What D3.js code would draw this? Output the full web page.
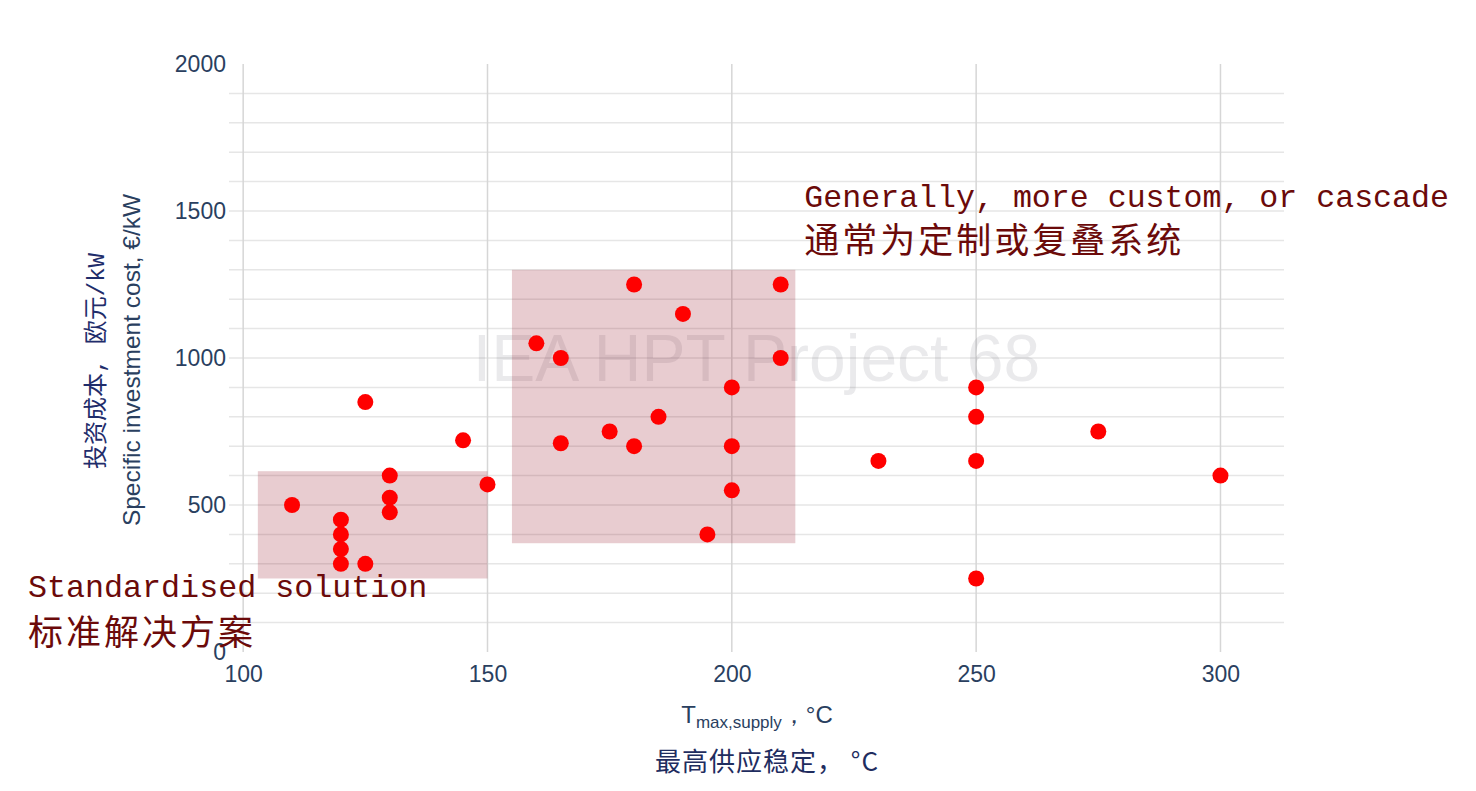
<!DOCTYPE html>
<html><head><meta charset="utf-8">
<script src="https://cdn.jsdelivr.net/npm/d3@7"></script>
<style>html,body{margin:0;padding:0;background:#fff;}svg{display:block;}</style>
</head><body>
<svg id="chart" width="1476" height="791"></svg>
<script>
// Data
const temps = [110,120,120,120,120,125,125,130,130,130,145,150,160,165,165,175,180,180,185,190,195,200,200,200,210,210,230,250,250,250,250,275,300];
const costs = [500,450,400,350,300,300,850,600,525,475,720,570,1050,1000,710,750,1250,700,800,1150,400,900,700,550,1250,1000,650,900,800,650,250,750,600];
const xTicks = [100,150,200,250,300];
const yTicks = [0,500,1000,1500,2000];
const yMinor = [100,200,300,400,500,600,700,800,900,1000,1100,1200,1300,1400,1500,1600,1700,1800,1900];
const boxX0 = [103,155], boxX1 = [150,213], boxY0 = [250,370], boxY1 = [615,1300];
const annEn = ["Standardised solution","Generally, more custom, or cascade"];
const annZh = ["标准解决方案","通常为定制或复叠系统"];
const annX = [100,213], annY = [250,1300];

const svg = d3.select("#chart");
const x = d3.scaleLinear().domain([97.1,313]).range([229,1284]);
const y = d3.scaleLinear().domain([0,2000]).range([652,64]);
const navy = "#2a3f5f";

// grid
svg.append("g").selectAll("line").data(yMinor).join("line")
  .attr("x1",x.range()[0]).attr("x2",x.range()[1])
  .attr("y1",d=>y(d)).attr("y2",d=>y(d))
  .attr("stroke","#e6e6e6").attr("stroke-width",1.5);
svg.append("g").selectAll("line").data(xTicks).join("line")
  .attr("x1",d=>x(d)).attr("x2",d=>x(d))
  .attr("y1",y(2000)).attr("y2",y(0))
  .attr("stroke","#d6d6d6").attr("stroke-width",1.5);

// axes labels via d3 axes
const ax = svg.append("g").attr("transform",`translate(0,${y(0)})`)
  .call(d3.axisBottom(x).tickValues(xTicks).tickFormat(d3.format("d")).tickSize(0).tickPadding(14));
ax.select(".domain").remove();
ax.selectAll("text").attr("font-family","'Liberation Sans',Arial,sans-serif").attr("font-size",23).attr("fill",navy);
const ay = svg.append("g").attr("transform",`translate(${x.range()[0]},0)`)
  .call(d3.axisLeft(y).tickValues(yTicks).tickFormat(d3.format("d")).tickSize(0).tickPadding(3));
ay.select(".domain").remove();
ay.selectAll("text").attr("font-family","'Liberation Sans',Arial,sans-serif").attr("font-size",23).attr("fill",navy);

// watermark
svg.append("text").attr("x",(x(97.1)+x(313))/2).attr("y",y(1000)+23)
  .attr("text-anchor","middle").attr("font-family","'Liberation Sans',Arial,sans-serif")
  .attr("font-size",66).attr("fill","rgba(60,60,80,0.11)").text("IEA HPT Project 68");

// boxes
svg.append("g").selectAll("rect").data(boxX0).join("rect")
  .attr("x",(d)=>x(d)).attr("width",(d,i)=>x(boxX1[i])-x(d))
  .attr("y",(d,i)=>y(boxY1[i])).attr("height",(d,i)=>y(boxY0[i])-y(boxY1[i]))
  .attr("fill","rgba(140,0,20,0.2)");

// points
svg.append("g").selectAll("circle").data(temps).join("circle")
  .attr("cx",d=>x(d)).attr("cy",(d,i)=>y(costs[i])).attr("r",8).attr("fill","#ff0000");

// annotations
const annCol = "#6b0a0a";
svg.append("text").attr("x",28).attr("y",y(annY[0])+18).attr("font-family","'Liberation Mono',monospace")
  .attr("font-size",31.7).attr("fill",annCol).text(annEn[0]);
svg.append("text").attr("x",28).attr("y",y(annY[0])+66).attr("font-family","'Noto Sans CJK SC',sans-serif")
  .attr("font-size",35).attr("fill",annCol).attr("letter-spacing",3).text(annZh[0]);
svg.append("text").attr("x",x(annX[1])+9).attr("y",y(annY[1])-63).attr("font-family","'Liberation Mono',monospace")
  .attr("font-size",31.6).attr("fill",annCol).text(annEn[1]);
svg.append("text").attr("x",x(annX[1])+9).attr("y",y(annY[1])-17).attr("font-family","'Noto Sans CJK SC',sans-serif")
  .attr("font-size",35).attr("fill",annCol).attr("letter-spacing",3).text(annZh[1]);

// axis titles
const xt = svg.append("text").attr("x",757).attr("y",723).attr("text-anchor","middle")
  .attr("font-family","'Liberation Sans',Arial,sans-serif").attr("font-size",24).attr("fill",navy);
xt.append("tspan").text("T");
xt.append("tspan").attr("font-size",17).attr("dy",5).text("max,supply");
xt.append("tspan").attr("dy",-5).text("，°C");
svg.append("text").attr("x",767).attr("y",771).attr("text-anchor","middle")
  .attr("font-family","'Noto Sans CJK SC',sans-serif").attr("font-size",26).attr("fill","#1f2d5f")
  .attr("letter-spacing",1).text("最高供应稳定， °C");
svg.append("text").attr("transform","translate(140,360) rotate(-90)").attr("text-anchor","middle")
  .attr("font-family","'Liberation Sans',Arial,sans-serif").attr("font-size",24.5).attr("fill",navy)
  .text("Specific investment cost, €/kW");
svg.append("text").attr("transform","translate(104,361) rotate(-90)").attr("text-anchor","middle")
  .attr("font-family","'Liberation Mono','Noto Sans CJK SC',monospace").attr("font-size",24).attr("fill","#1f2d6b")
  .text("投资成本, 欧元/kW");
</script>
</body></html>
